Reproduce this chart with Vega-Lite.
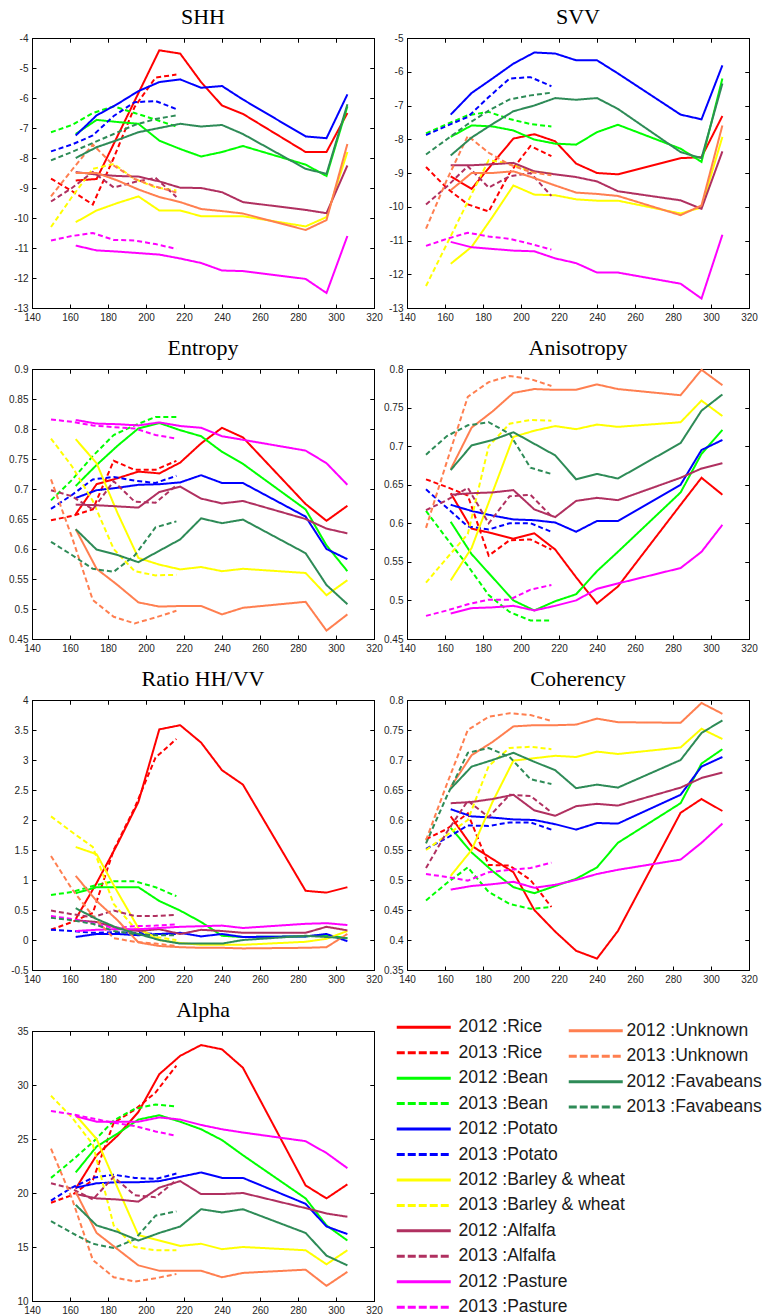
{
"$schema": "https://vega.github.io/schema/vega-lite/v6.json",
"padding": {"left": 8, "top": 5, "right": 2, "bottom": 0},
"background": "white",
"data": {"name": "crops"},
"datasets": {"crops": [
{"series":"2012 :Rice","year":2012,"day":163,"SHH":-8.75,"SVV":-9.1,"Entropy":0.658,"Anisotropy":0.639,"Ratio":0.35,"Coherency":0.606,"Alpha":20.4},
{"series":"2012 :Rice","year":2012,"day":174,"SHH":-8.7,"SVV":-9.47,"Entropy":0.708,"Anisotropy":0.593,"Ratio":0.95,"Coherency":0.557,"Alpha":23.5},
{"series":"2012 :Rice","year":2012,"day":185,"SHH":-7.27,"SVV":-8.72,"Entropy":0.718,"Anisotropy":0.587,"Ratio":1.6,"Coherency":0.535,"Alpha":25.3},
{"series":"2012 :Rice","year":2012,"day":196,"SHH":-5.84,"SVV":-7.98,"Entropy":0.729,"Anisotropy":0.58,"Ratio":2.3,"Coherency":0.513,"Alpha":27.5},
{"series":"2012 :Rice","year":2012,"day":207,"SHH":-4.41,"SVV":-7.85,"Entropy":0.726,"Anisotropy":0.587,"Ratio":3.51,"Coherency":0.45,"Alpha":31.0},
{"series":"2012 :Rice","year":2012,"day":218,"SHH":-4.52,"SVV":-8.06,"Entropy":0.744,"Anisotropy":0.566,"Ratio":3.58,"Coherency":0.414,"Alpha":32.7},
{"series":"2012 :Rice","year":2012,"day":229,"SHH":-5.47,"SVV":-8.72,"Entropy":0.776,"Anisotropy":0.53,"Ratio":3.29,"Coherency":0.382,"Alpha":33.7},
{"series":"2012 :Rice","year":2012,"day":240,"SHH":-6.25,"SVV":-9.0,"Entropy":0.802,"Anisotropy":0.496,"Ratio":2.83,"Coherency":0.369,"Alpha":33.3},
{"series":"2012 :Rice","year":2012,"day":251,"SHH":-6.53,"SVV":-9.04,"Entropy":0.786,"Anisotropy":0.518,"Ratio":2.59,"Coherency":0.415,"Alpha":31.6},
{"series":"2012 :Rice","year":2012,"day":284,"SHH":-7.8,"SVV":-8.56,"Entropy":0.675,"Anisotropy":0.624,"Ratio":0.82,"Coherency":0.612,"Alpha":20.7},
{"series":"2012 :Rice","year":2012,"day":295,"SHH":-7.8,"SVV":-8.53,"Entropy":0.647,"Anisotropy":0.659,"Ratio":0.79,"Coherency":0.635,"Alpha":19.5},
{"series":"2012 :Rice","year":2012,"day":306,"SHH":-6.5,"SVV":-7.31,"Entropy":0.672,"Anisotropy":0.637,"Ratio":0.88,"Coherency":0.615,"Alpha":20.8},
{"series":"2013 :Rice","year":2013,"day":150,"SHH":-8.69,"SVV":-8.82,"Entropy":0.648,"Anisotropy":0.657,"Ratio":0.17,"Coherency":0.568,"Alpha":19.1},
{"series":"2013 :Rice","year":2013,"day":161,"SHH":-9.1,"SVV":-9.45,"Entropy":0.655,"Anisotropy":0.647,"Ratio":0.3,"Coherency":0.585,"Alpha":19.8},
{"series":"2013 :Rice","year":2013,"day":172,"SHH":-9.55,"SVV":-9.93,"Entropy":0.666,"Anisotropy":0.636,"Ratio":0.45,"Coherency":0.611,"Alpha":21.2},
{"series":"2013 :Rice","year":2013,"day":183,"SHH":-8.0,"SVV":-10.14,"Entropy":0.747,"Anisotropy":0.558,"Ratio":1.5,"Coherency":0.525,"Alpha":26.5},
{"series":"2013 :Rice","year":2013,"day":194,"SHH":-6.3,"SVV":-9.0,"Entropy":0.732,"Anisotropy":0.578,"Ratio":2.2,"Coherency":0.524,"Alpha":27.7},
{"series":"2013 :Rice","year":2013,"day":205,"SHH":-5.32,"SVV":-8.2,"Entropy":0.732,"Anisotropy":0.579,"Ratio":3.04,"Coherency":0.5,"Alpha":29.3},
{"series":"2013 :Rice","year":2013,"day":216,"SHH":-5.22,"SVV":-8.5,"Entropy":0.747,"Anisotropy":0.566,"Ratio":3.35,"Coherency":0.455,"Alpha":31.8},
{"series":"2012 :Bean","year":2012,"day":163,"SHH":-7.2,"SVV":-7.93,"Entropy":0.705,"Anisotropy":0.602,"Ratio":0.78,"Coherency":0.587,"Alpha":21.9},
{"series":"2012 :Bean","year":2012,"day":174,"SHH":-6.73,"SVV":-7.59,"Entropy":0.74,"Anisotropy":0.56,"Ratio":0.88,"Coherency":0.546,"Alpha":24.3},
{"series":"2012 :Bean","year":2012,"day":185,"SHH":-6.8,"SVV":-7.62,"Entropy":0.772,"Anisotropy":0.53,"Ratio":0.88,"Coherency":0.515,"Alpha":25.5},
{"series":"2012 :Bean","year":2012,"day":196,"SHH":-6.86,"SVV":-7.74,"Entropy":0.801,"Anisotropy":0.5,"Ratio":0.88,"Coherency":0.488,"Alpha":26.8},
{"series":"2012 :Bean","year":2012,"day":207,"SHH":-7.42,"SVV":-8.01,"Entropy":0.81,"Anisotropy":0.487,"Ratio":0.65,"Coherency":0.478,"Alpha":27.2},
{"series":"2012 :Bean","year":2012,"day":218,"SHH":-7.7,"SVV":-8.13,"Entropy":0.798,"Anisotropy":0.499,"Ratio":0.49,"Coherency":0.49,"Alpha":26.6},
{"series":"2012 :Bean","year":2012,"day":229,"SHH":-7.95,"SVV":-8.16,"Entropy":0.788,"Anisotropy":0.508,"Ratio":0.3,"Coherency":0.502,"Alpha":25.9},
{"series":"2012 :Bean","year":2012,"day":240,"SHH":-7.8,"SVV":-7.79,"Entropy":0.762,"Anisotropy":0.538,"Ratio":0.07,"Coherency":0.521,"Alpha":24.9},
{"series":"2012 :Bean","year":2012,"day":251,"SHH":-7.6,"SVV":-7.57,"Entropy":0.742,"Anisotropy":0.563,"Ratio":0.05,"Coherency":0.562,"Alpha":23.5},
{"series":"2012 :Bean","year":2012,"day":284,"SHH":-8.22,"SVV":-8.28,"Entropy":0.666,"Anisotropy":0.64,"Ratio":0.06,"Coherency":0.628,"Alpha":19.5},
{"series":"2012 :Bean","year":2012,"day":295,"SHH":-8.6,"SVV":-8.67,"Entropy":0.606,"Anisotropy":0.69,"Ratio":0.08,"Coherency":0.694,"Alpha":17.0},
{"series":"2012 :Bean","year":2012,"day":306,"SHH":-6.28,"SVV":-6.2,"Entropy":0.563,"Anisotropy":0.721,"Ratio":0.03,"Coherency":0.718,"Alpha":15.6},
{"series":"2013 :Bean","year":2013,"day":150,"SHH":-7.14,"SVV":-7.83,"Entropy":0.681,"Anisotropy":0.616,"Ratio":0.75,"Coherency":0.466,"Alpha":21.4},
{"series":"2013 :Bean","year":2013,"day":161,"SHH":-6.9,"SVV":-7.55,"Entropy":0.715,"Anisotropy":0.58,"Ratio":0.8,"Coherency":0.495,"Alpha":23.0},
{"series":"2013 :Bean","year":2013,"day":172,"SHH":-6.5,"SVV":-7.29,"Entropy":0.755,"Anisotropy":0.545,"Ratio":0.9,"Coherency":0.521,"Alpha":24.7},
{"series":"2013 :Bean","year":2013,"day":183,"SHH":-6.28,"SVV":-7.19,"Entropy":0.79,"Anisotropy":0.507,"Ratio":0.98,"Coherency":0.48,"Alpha":26.7},
{"series":"2013 :Bean","year":2013,"day":194,"SHH":-6.5,"SVV":-7.4,"Entropy":0.806,"Anisotropy":0.485,"Ratio":0.98,"Coherency":0.46,"Alpha":27.8},
{"series":"2013 :Bean","year":2013,"day":205,"SHH":-6.72,"SVV":-7.55,"Entropy":0.82,"Anisotropy":0.474,"Ratio":0.88,"Coherency":0.452,"Alpha":28.2},
{"series":"2013 :Bean","year":2013,"day":216,"SHH":-6.95,"SVV":-7.62,"Entropy":0.82,"Anisotropy":0.474,"Ratio":0.73,"Coherency":0.455,"Alpha":28.0},
{"series":"2012 :Potato","year":2012,"day":163,"SHH":-7.25,"SVV":-7.27,"Entropy":0.685,"Anisotropy":0.624,"Ratio":0.05,"Coherency":0.618,"Alpha":20.5},
{"series":"2012 :Potato","year":2012,"day":174,"SHH":-6.58,"SVV":-6.63,"Entropy":0.698,"Anisotropy":0.616,"Ratio":0.1,"Coherency":0.606,"Alpha":20.9},
{"series":"2012 :Potato","year":2012,"day":185,"SHH":-6.2,"SVV":-6.2,"Entropy":0.702,"Anisotropy":0.61,"Ratio":0.1,"Coherency":0.604,"Alpha":21.0},
{"series":"2012 :Potato","year":2012,"day":196,"SHH":-5.77,"SVV":-5.76,"Entropy":0.707,"Anisotropy":0.605,"Ratio":0.08,"Coherency":0.601,"Alpha":21.0},
{"series":"2012 :Potato","year":2012,"day":207,"SHH":-5.47,"SVV":-5.43,"Entropy":0.708,"Anisotropy":0.604,"Ratio":0.1,"Coherency":0.6,"Alpha":21.1},
{"series":"2012 :Potato","year":2012,"day":218,"SHH":-5.38,"SVV":-5.46,"Entropy":0.711,"Anisotropy":0.601,"Ratio":0.12,"Coherency":0.593,"Alpha":21.5},
{"series":"2012 :Potato","year":2012,"day":229,"SHH":-5.66,"SVV":-5.66,"Entropy":0.723,"Anisotropy":0.589,"Ratio":0.06,"Coherency":0.584,"Alpha":21.9},
{"series":"2012 :Potato","year":2012,"day":240,"SHH":-5.6,"SVV":-5.66,"Entropy":0.71,"Anisotropy":0.603,"Ratio":0.1,"Coherency":0.595,"Alpha":21.4},
{"series":"2012 :Potato","year":2012,"day":251,"SHH":-6.05,"SVV":-6.05,"Entropy":0.71,"Anisotropy":0.603,"Ratio":0.05,"Coherency":0.594,"Alpha":21.4},
{"series":"2012 :Potato","year":2012,"day":284,"SHH":-7.28,"SVV":-7.27,"Entropy":0.654,"Anisotropy":0.65,"Ratio":0.06,"Coherency":0.642,"Alpha":19.0},
{"series":"2012 :Potato","year":2012,"day":295,"SHH":-7.34,"SVV":-7.41,"Entropy":0.6,"Anisotropy":0.695,"Ratio":0.1,"Coherency":0.689,"Alpha":16.9},
{"series":"2012 :Potato","year":2012,"day":306,"SHH":-5.88,"SVV":-5.81,"Entropy":0.583,"Anisotropy":0.708,"Ratio":-0.02,"Coherency":0.705,"Alpha":16.2},
{"series":"2013 :Potato","year":2013,"day":150,"SHH":-7.78,"SVV":-7.88,"Entropy":0.667,"Anisotropy":0.644,"Ratio":0.17,"Coherency":0.552,"Alpha":19.3},
{"series":"2013 :Potato","year":2013,"day":161,"SHH":-7.55,"SVV":-7.6,"Entropy":0.69,"Anisotropy":0.62,"Ratio":0.15,"Coherency":0.57,"Alpha":20.5},
{"series":"2013 :Potato","year":2013,"day":172,"SHH":-7.25,"SVV":-7.34,"Entropy":0.716,"Anisotropy":0.596,"Ratio":0.12,"Coherency":0.591,"Alpha":21.4},
{"series":"2013 :Potato","year":2013,"day":183,"SHH":-6.6,"SVV":-6.75,"Entropy":0.72,"Anisotropy":0.592,"Ratio":0.13,"Coherency":0.59,"Alpha":21.7},
{"series":"2013 :Potato","year":2013,"day":194,"SHH":-6.14,"SVV":-6.2,"Entropy":0.714,"Anisotropy":0.6,"Ratio":0.12,"Coherency":0.596,"Alpha":21.4},
{"series":"2013 :Potato","year":2013,"day":205,"SHH":-6.1,"SVV":-6.16,"Entropy":0.71,"Anisotropy":0.6,"Ratio":0.1,"Coherency":0.596,"Alpha":21.3},
{"series":"2013 :Potato","year":2013,"day":216,"SHH":-6.37,"SVV":-6.43,"Entropy":0.722,"Anisotropy":0.589,"Ratio":0.1,"Coherency":0.584,"Alpha":21.8},
{"series":"2012 :Barley & wheat","year":2012,"day":163,"SHH":-10.14,"SVV":-11.69,"Entropy":0.783,"Anisotropy":0.526,"Ratio":1.55,"Coherency":0.507,"Alpha":27.2},
{"series":"2012 :Barley & wheat","year":2012,"day":174,"SHH":-9.75,"SVV":-11.19,"Entropy":0.743,"Anisotropy":0.568,"Ratio":1.43,"Coherency":0.55,"Alpha":25.0},
{"series":"2012 :Barley & wheat","year":2012,"day":185,"SHH":-9.5,"SVV":-10.3,"Entropy":0.66,"Anisotropy":0.64,"Ratio":0.8,"Coherency":0.63,"Alpha":20.5},
{"series":"2012 :Barley & wheat","year":2012,"day":196,"SHH":-9.28,"SVV":-9.37,"Entropy":0.585,"Anisotropy":0.712,"Ratio":0.2,"Coherency":0.699,"Alpha":16.1},
{"series":"2012 :Barley & wheat","year":2012,"day":207,"SHH":-9.75,"SVV":-9.64,"Entropy":0.574,"Anisotropy":0.72,"Ratio":0.0,"Coherency":0.703,"Alpha":15.6},
{"series":"2012 :Barley & wheat","year":2012,"day":218,"SHH":-9.75,"SVV":-9.66,"Entropy":0.566,"Anisotropy":0.726,"Ratio":-0.05,"Coherency":0.707,"Alpha":15.1},
{"series":"2012 :Barley & wheat","year":2012,"day":229,"SHH":-9.94,"SVV":-9.78,"Entropy":0.57,"Anisotropy":0.722,"Ratio":-0.08,"Coherency":0.705,"Alpha":15.3},
{"series":"2012 :Barley & wheat","year":2012,"day":240,"SHH":-9.94,"SVV":-9.82,"Entropy":0.563,"Anisotropy":0.728,"Ratio":-0.08,"Coherency":0.714,"Alpha":14.8},
{"series":"2012 :Barley & wheat","year":2012,"day":251,"SHH":-9.94,"SVV":-9.82,"Entropy":0.567,"Anisotropy":0.725,"Ratio":-0.08,"Coherency":0.71,"Alpha":15.0},
{"series":"2012 :Barley & wheat","year":2012,"day":284,"SHH":-10.28,"SVV":-10.2,"Entropy":0.56,"Anisotropy":0.731,"Ratio":-0.03,"Coherency":0.721,"Alpha":14.7},
{"series":"2012 :Barley & wheat","year":2012,"day":295,"SHH":-9.97,"SVV":-10.02,"Entropy":0.523,"Anisotropy":0.759,"Ratio":0.02,"Coherency":0.752,"Alpha":13.4},
{"series":"2012 :Barley & wheat","year":2012,"day":306,"SHH":-7.8,"SVV":-7.93,"Entropy":0.548,"Anisotropy":0.739,"Ratio":0.15,"Coherency":0.735,"Alpha":14.7},
{"series":"2013 :Barley & wheat","year":2013,"day":150,"SHH":-10.3,"SVV":-12.35,"Entropy":0.784,"Anisotropy":0.523,"Ratio":2.06,"Coherency":0.55,"Alpha":29.0},
{"series":"2013 :Barley & wheat","year":2013,"day":161,"SHH":-9.3,"SVV":-11.1,"Entropy":0.738,"Anisotropy":0.555,"Ratio":1.8,"Coherency":0.575,"Alpha":27.0},
{"series":"2013 :Barley & wheat","year":2013,"day":172,"SHH":-8.36,"SVV":-9.85,"Entropy":0.68,"Anisotropy":0.586,"Ratio":1.55,"Coherency":0.6,"Alpha":24.5},
{"series":"2013 :Barley & wheat","year":2013,"day":183,"SHH":-8.2,"SVV":-8.62,"Entropy":0.6,"Anisotropy":0.7,"Ratio":0.6,"Coherency":0.69,"Alpha":17.0},
{"series":"2013 :Barley & wheat","year":2013,"day":194,"SHH":-8.7,"SVV":-8.72,"Entropy":0.563,"Anisotropy":0.729,"Ratio":0.2,"Coherency":0.72,"Alpha":15.0},
{"series":"2013 :Barley & wheat","year":2013,"day":205,"SHH":-8.98,"SVV":-8.95,"Entropy":0.556,"Anisotropy":0.734,"Ratio":0.05,"Coherency":0.722,"Alpha":14.7},
{"series":"2013 :Barley & wheat","year":2013,"day":216,"SHH":-9.08,"SVV":-9.02,"Entropy":0.557,"Anisotropy":0.733,"Ratio":0.0,"Coherency":0.718,"Alpha":14.7},
{"series":"2012 :Alfalfa","year":2012,"day":163,"SHH":-8.47,"SVV":-8.77,"Entropy":0.674,"Anisotropy":0.637,"Ratio":0.33,"Coherency":0.628,"Alpha":19.9},
{"series":"2012 :Alfalfa","year":2012,"day":174,"SHH":-8.55,"SVV":-8.77,"Entropy":0.673,"Anisotropy":0.639,"Ratio":0.3,"Coherency":0.63,"Alpha":19.5},
{"series":"2012 :Alfalfa","year":2012,"day":185,"SHH":-8.6,"SVV":-8.74,"Entropy":0.671,"Anisotropy":0.64,"Ratio":0.2,"Coherency":0.635,"Alpha":19.4},
{"series":"2012 :Alfalfa","year":2012,"day":196,"SHH":-8.62,"SVV":-8.7,"Entropy":0.669,"Anisotropy":0.643,"Ratio":0.15,"Coherency":0.642,"Alpha":19.2},
{"series":"2012 :Alfalfa","year":2012,"day":207,"SHH":-8.78,"SVV":-8.95,"Entropy":0.695,"Anisotropy":0.618,"Ratio":0.18,"Coherency":0.616,"Alpha":20.5},
{"series":"2012 :Alfalfa","year":2012,"day":218,"SHH":-8.99,"SVV":-9.04,"Entropy":0.704,"Anisotropy":0.608,"Ratio":0.1,"Coherency":0.607,"Alpha":21.1},
{"series":"2012 :Alfalfa","year":2012,"day":229,"SHH":-9.0,"SVV":-9.12,"Entropy":0.684,"Anisotropy":0.629,"Ratio":0.17,"Coherency":0.623,"Alpha":19.9},
{"series":"2012 :Alfalfa","year":2012,"day":240,"SHH":-9.14,"SVV":-9.25,"Entropy":0.676,"Anisotropy":0.633,"Ratio":0.15,"Coherency":0.627,"Alpha":19.9},
{"series":"2012 :Alfalfa","year":2012,"day":251,"SHH":-9.47,"SVV":-9.54,"Entropy":0.68,"Anisotropy":0.63,"Ratio":0.12,"Coherency":0.624,"Alpha":20.0},
{"series":"2012 :Alfalfa","year":2012,"day":284,"SHH":-9.73,"SVV":-9.81,"Entropy":0.65,"Anisotropy":0.659,"Ratio":0.12,"Coherency":0.654,"Alpha":18.6},
{"series":"2012 :Alfalfa","year":2012,"day":295,"SHH":-9.84,"SVV":-10.06,"Entropy":0.634,"Anisotropy":0.671,"Ratio":0.22,"Coherency":0.67,"Alpha":18.1},
{"series":"2012 :Alfalfa","year":2012,"day":306,"SHH":-8.25,"SVV":-8.36,"Entropy":0.626,"Anisotropy":0.678,"Ratio":0.16,"Coherency":0.679,"Alpha":17.8},
{"series":"2013 :Alfalfa","year":2013,"day":150,"SHH":-9.45,"SVV":-9.93,"Entropy":0.698,"Anisotropy":0.617,"Ratio":0.49,"Coherency":0.52,"Alpha":20.9},
{"series":"2013 :Alfalfa","year":2013,"day":161,"SHH":-9.0,"SVV":-9.4,"Entropy":0.688,"Anisotropy":0.63,"Ratio":0.43,"Coherency":0.58,"Alpha":20.4},
{"series":"2013 :Alfalfa","year":2013,"day":172,"SHH":-8.47,"SVV":-8.8,"Entropy":0.666,"Anisotropy":0.646,"Ratio":0.38,"Coherency":0.632,"Alpha":19.4},
{"series":"2013 :Alfalfa","year":2013,"day":183,"SHH":-8.98,"SVV":-9.43,"Entropy":0.713,"Anisotropy":0.6,"Ratio":0.49,"Coherency":0.605,"Alpha":21.5},
{"series":"2013 :Alfalfa","year":2013,"day":194,"SHH":-8.8,"SVV":-9.1,"Entropy":0.679,"Anisotropy":0.635,"Ratio":0.4,"Coherency":0.642,"Alpha":19.8},
{"series":"2013 :Alfalfa","year":2013,"day":205,"SHH":-8.66,"SVV":-9.0,"Entropy":0.677,"Anisotropy":0.637,"Ratio":0.4,"Coherency":0.64,"Alpha":19.6},
{"series":"2013 :Alfalfa","year":2013,"day":216,"SHH":-9.3,"SVV":-9.68,"Entropy":0.706,"Anisotropy":0.609,"Ratio":0.42,"Coherency":0.613,"Alpha":21.2},
{"series":"2012 :Pasture","year":2012,"day":163,"SHH":-10.92,"SVV":-11.04,"Entropy":0.815,"Anisotropy":0.483,"Ratio":0.15,"Coherency":0.484,"Alpha":27.1},
{"series":"2012 :Pasture","year":2012,"day":174,"SHH":-11.08,"SVV":-11.2,"Entropy":0.809,"Anisotropy":0.49,"Ratio":0.17,"Coherency":0.49,"Alpha":26.6},
{"series":"2012 :Pasture","year":2012,"day":185,"SHH":-11.12,"SVV":-11.25,"Entropy":0.808,"Anisotropy":0.491,"Ratio":0.18,"Coherency":0.493,"Alpha":26.6},
{"series":"2012 :Pasture","year":2012,"day":196,"SHH":-11.17,"SVV":-11.3,"Entropy":0.806,"Anisotropy":0.493,"Ratio":0.18,"Coherency":0.497,"Alpha":26.6},
{"series":"2012 :Pasture","year":2012,"day":207,"SHH":-11.22,"SVV":-11.32,"Entropy":0.811,"Anisotropy":0.487,"Ratio":0.2,"Coherency":0.487,"Alpha":27.0},
{"series":"2012 :Pasture","year":2012,"day":218,"SHH":-11.35,"SVV":-11.53,"Entropy":0.805,"Anisotropy":0.493,"Ratio":0.22,"Coherency":0.492,"Alpha":26.8},
{"series":"2012 :Pasture","year":2012,"day":229,"SHH":-11.5,"SVV":-11.67,"Entropy":0.802,"Anisotropy":0.5,"Ratio":0.23,"Coherency":0.5,"Alpha":26.3},
{"series":"2012 :Pasture","year":2012,"day":240,"SHH":-11.75,"SVV":-11.95,"Entropy":0.788,"Anisotropy":0.515,"Ratio":0.24,"Coherency":0.51,"Alpha":25.9},
{"series":"2012 :Pasture","year":2012,"day":251,"SHH":-11.77,"SVV":-11.95,"Entropy":0.782,"Anisotropy":0.522,"Ratio":0.2,"Coherency":0.517,"Alpha":25.6},
{"series":"2012 :Pasture","year":2012,"day":284,"SHH":-12.03,"SVV":-12.28,"Entropy":0.764,"Anisotropy":0.542,"Ratio":0.27,"Coherency":0.534,"Alpha":24.8},
{"series":"2012 :Pasture","year":2012,"day":295,"SHH":-12.5,"SVV":-12.72,"Entropy":0.743,"Anisotropy":0.563,"Ratio":0.28,"Coherency":0.562,"Alpha":23.7},
{"series":"2012 :Pasture","year":2012,"day":306,"SHH":-10.6,"SVV":-10.83,"Entropy":0.707,"Anisotropy":0.598,"Ratio":0.25,"Coherency":0.594,"Alpha":22.3},
{"series":"2013 :Pasture","year":2013,"day":150,"SHH":-10.75,"SVV":-11.16,"Entropy":0.816,"Anisotropy":0.48,"Ratio":0.4,"Coherency":0.51,"Alpha":27.6},
{"series":"2013 :Pasture","year":2013,"day":161,"SHH":-10.6,"SVV":-10.95,"Entropy":0.812,"Anisotropy":0.487,"Ratio":0.35,"Coherency":0.505,"Alpha":27.3},
{"series":"2013 :Pasture","year":2013,"day":172,"SHH":-10.5,"SVV":-10.77,"Entropy":0.806,"Anisotropy":0.495,"Ratio":0.28,"Coherency":0.499,"Alpha":26.9},
{"series":"2013 :Pasture","year":2013,"day":183,"SHH":-10.73,"SVV":-10.88,"Entropy":0.803,"Anisotropy":0.501,"Ratio":0.2,"Coherency":0.513,"Alpha":26.5},
{"series":"2013 :Pasture","year":2013,"day":194,"SHH":-10.75,"SVV":-10.95,"Entropy":0.801,"Anisotropy":0.501,"Ratio":0.23,"Coherency":0.517,"Alpha":26.2},
{"series":"2013 :Pasture","year":2013,"day":205,"SHH":-10.87,"SVV":-11.1,"Entropy":0.79,"Anisotropy":0.514,"Ratio":0.24,"Coherency":0.52,"Alpha":25.7},
{"series":"2013 :Pasture","year":2013,"day":216,"SHH":-11.03,"SVV":-11.27,"Entropy":0.784,"Anisotropy":0.52,"Ratio":0.26,"Coherency":0.529,"Alpha":25.3},
{"series":"2012 :Unknown","year":2012,"day":163,"SHH":-8.5,"SVV":-9.51,"Entropy":0.633,"Anisotropy":0.67,"Ratio":1.07,"Coherency":0.655,"Alpha":20.1},
{"series":"2012 :Unknown","year":2012,"day":174,"SHH":-8.5,"SVV":-9.0,"Entropy":0.567,"Anisotropy":0.724,"Ratio":0.65,"Coherency":0.708,"Alpha":16.3},
{"series":"2012 :Unknown","year":2012,"day":185,"SHH":-8.75,"SVV":-9.0,"Entropy":0.54,"Anisotropy":0.745,"Ratio":0.33,"Coherency":0.73,"Alpha":14.8},
{"series":"2012 :Unknown","year":2012,"day":196,"SHH":-9.05,"SVV":-8.95,"Entropy":0.511,"Anisotropy":0.769,"Ratio":-0.04,"Coherency":0.756,"Alpha":13.3},
{"series":"2012 :Unknown","year":2012,"day":207,"SHH":-9.3,"SVV":-9.15,"Entropy":0.504,"Anisotropy":0.774,"Ratio":-0.1,"Coherency":0.758,"Alpha":12.8},
{"series":"2012 :Unknown","year":2012,"day":218,"SHH":-9.47,"SVV":-9.37,"Entropy":0.505,"Anisotropy":0.773,"Ratio":-0.12,"Coherency":0.758,"Alpha":12.8},
{"series":"2012 :Unknown","year":2012,"day":229,"SHH":-9.7,"SVV":-9.58,"Entropy":0.505,"Anisotropy":0.773,"Ratio":-0.13,"Coherency":0.759,"Alpha":12.8},
{"series":"2012 :Unknown","year":2012,"day":240,"SHH":-9.77,"SVV":-9.62,"Entropy":0.491,"Anisotropy":0.78,"Ratio":-0.13,"Coherency":0.769,"Alpha":12.2},
{"series":"2012 :Unknown","year":2012,"day":251,"SHH":-9.85,"SVV":-9.68,"Entropy":0.502,"Anisotropy":0.774,"Ratio":-0.14,"Coherency":0.763,"Alpha":12.6},
{"series":"2012 :Unknown","year":2012,"day":284,"SHH":-10.4,"SVV":-10.25,"Entropy":0.512,"Anisotropy":0.766,"Ratio":-0.13,"Coherency":0.762,"Alpha":12.9},
{"series":"2012 :Unknown","year":2012,"day":295,"SHH":-10.07,"SVV":-9.96,"Entropy":0.464,"Anisotropy":0.799,"Ratio":-0.12,"Coherency":0.795,"Alpha":11.4},
{"series":"2012 :Unknown","year":2012,"day":306,"SHH":-7.53,"SVV":-7.59,"Entropy":0.491,"Anisotropy":0.779,"Ratio":0.1,"Coherency":0.777,"Alpha":12.7},
{"series":"2013 :Unknown","year":2013,"day":150,"SHH":-9.28,"SVV":-10.65,"Entropy":0.716,"Anisotropy":0.594,"Ratio":1.4,"Coherency":0.566,"Alpha":24.1},
{"series":"2013 :Unknown","year":2013,"day":161,"SHH":-8.4,"SVV":-9.2,"Entropy":0.62,"Anisotropy":0.68,"Ratio":0.85,"Coherency":0.66,"Alpha":19.5},
{"series":"2013 :Unknown","year":2013,"day":172,"SHH":-7.55,"SVV":-7.9,"Entropy":0.515,"Anisotropy":0.764,"Ratio":0.4,"Coherency":0.75,"Alpha":13.8},
{"series":"2013 :Unknown","year":2013,"day":183,"SHH":-8.25,"SVV":-8.4,"Entropy":0.487,"Anisotropy":0.783,"Ratio":0.03,"Coherency":0.772,"Alpha":12.2},
{"series":"2013 :Unknown","year":2013,"day":194,"SHH":-8.7,"SVV":-8.75,"Entropy":0.476,"Anisotropy":0.791,"Ratio":-0.03,"Coherency":0.778,"Alpha":11.8},
{"series":"2013 :Unknown","year":2013,"day":205,"SHH":-8.95,"SVV":-8.97,"Entropy":0.486,"Anisotropy":0.787,"Ratio":-0.06,"Coherency":0.775,"Alpha":12.1},
{"series":"2013 :Unknown","year":2013,"day":216,"SHH":-9.15,"SVV":-9.07,"Entropy":0.497,"Anisotropy":0.778,"Ratio":-0.1,"Coherency":0.765,"Alpha":12.5},
{"series":"2012 :Favabeans","year":2012,"day":163,"SHH":-8.0,"SVV":-8.48,"Entropy":0.633,"Anisotropy":0.669,"Ratio":0.53,"Coherency":0.652,"Alpha":18.9},
{"series":"2012 :Favabeans","year":2012,"day":174,"SHH":-7.64,"SVV":-7.95,"Entropy":0.599,"Anisotropy":0.701,"Ratio":0.35,"Coherency":0.689,"Alpha":17.0},
{"series":"2012 :Favabeans","year":2012,"day":185,"SHH":-7.4,"SVV":-7.55,"Entropy":0.59,"Anisotropy":0.708,"Ratio":0.2,"Coherency":0.7,"Alpha":16.4},
{"series":"2012 :Favabeans","year":2012,"day":196,"SHH":-7.14,"SVV":-7.17,"Entropy":0.578,"Anisotropy":0.718,"Ratio":0.1,"Coherency":0.712,"Alpha":15.6},
{"series":"2012 :Favabeans","year":2012,"day":207,"SHH":-7.0,"SVV":-7.0,"Entropy":0.597,"Anisotropy":0.703,"Ratio":0.0,"Coherency":0.697,"Alpha":16.3},
{"series":"2012 :Favabeans","year":2012,"day":218,"SHH":-6.86,"SVV":-6.78,"Entropy":0.616,"Anisotropy":0.688,"Ratio":-0.06,"Coherency":0.683,"Alpha":16.9},
{"series":"2012 :Favabeans","year":2012,"day":229,"SHH":-6.95,"SVV":-6.83,"Entropy":0.651,"Anisotropy":0.657,"Ratio":-0.06,"Coherency":0.653,"Alpha":18.5},
{"series":"2012 :Favabeans","year":2012,"day":240,"SHH":-6.9,"SVV":-6.78,"Entropy":0.643,"Anisotropy":0.664,"Ratio":-0.06,"Coherency":0.659,"Alpha":18.2},
{"series":"2012 :Favabeans","year":2012,"day":251,"SHH":-7.2,"SVV":-7.1,"Entropy":0.649,"Anisotropy":0.658,"Ratio":0.0,"Coherency":0.654,"Alpha":18.5},
{"series":"2012 :Favabeans","year":2012,"day":284,"SHH":-8.36,"SVV":-8.38,"Entropy":0.593,"Anisotropy":0.704,"Ratio":0.07,"Coherency":0.7,"Alpha":16.3},
{"series":"2012 :Favabeans","year":2012,"day":295,"SHH":-8.53,"SVV":-8.56,"Entropy":0.54,"Anisotropy":0.746,"Ratio":0.05,"Coherency":0.745,"Alpha":14.2},
{"series":"2012 :Favabeans","year":2012,"day":306,"SHH":-6.21,"SVV":-6.35,"Entropy":0.508,"Anisotropy":0.767,"Ratio":0.03,"Coherency":0.766,"Alpha":13.3},
{"series":"2013 :Favabeans","year":2013,"day":150,"SHH":-8.08,"SVV":-8.45,"Entropy":0.612,"Anisotropy":0.689,"Ratio":0.37,"Coherency":0.561,"Alpha":17.4},
{"series":"2013 :Favabeans","year":2013,"day":161,"SHH":-7.8,"SVV":-8.0,"Entropy":0.59,"Anisotropy":0.713,"Ratio":0.33,"Coherency":0.64,"Alpha":16.3},
{"series":"2013 :Favabeans","year":2013,"day":172,"SHH":-7.5,"SVV":-7.55,"Entropy":0.567,"Anisotropy":0.727,"Ratio":0.27,"Coherency":0.712,"Alpha":15.3},
{"series":"2013 :Favabeans","year":2013,"day":183,"SHH":-7.2,"SVV":-7.15,"Entropy":0.562,"Anisotropy":0.731,"Ratio":0.15,"Coherency":0.72,"Alpha":14.9},
{"series":"2013 :Favabeans","year":2013,"day":194,"SHH":-6.9,"SVV":-6.82,"Entropy":0.589,"Anisotropy":0.716,"Ratio":0.1,"Coherency":0.705,"Alpha":15.7},
{"series":"2013 :Favabeans","year":2013,"day":205,"SHH":-6.7,"SVV":-6.7,"Entropy":0.636,"Anisotropy":0.672,"Ratio":0.08,"Coherency":0.668,"Alpha":17.9},
{"series":"2013 :Favabeans","year":2013,"day":216,"SHH":-6.58,"SVV":-6.62,"Entropy":0.646,"Anisotropy":0.664,"Ratio":0.08,"Coherency":0.66,"Alpha":18.3}
]},
"concat": [
   {"title": "SHH", "width": 342, "height": 270,
    "resolve": {"axis": {"x": "independent", "y": "independent"}},
    "encoding": {
     "x": {"field": "day", "type": "quantitative", "scale": {"domain": [140, 320], "nice": false}, "axis": {"values": [140,160,180,200,220,240,260,280,300,320]}},
     "y": {"field": "SHH", "type": "quantitative", "scale": {"domain": [-13, -4], "nice": false, "zero": false}, "axis": {"values": [-13,-12,-11,-10,-9,-8,-7,-6,-5,-4]}},
     "strokeDash": {"field": "year", "type": "nominal", "scale": {"domain": [2012, 2013], "range": [[1, 0], [5, 3]]}, "legend": null}
    },
    "layer": [
     {"transform": [{"filter": {"field": "series", "oneOf": ["2012 :Rice","2013 :Rice","2012 :Bean","2013 :Bean","2012 :Potato","2013 :Potato","2012 :Barley & wheat","2013 :Barley & wheat","2012 :Alfalfa","2013 :Alfalfa","2012 :Pasture","2013 :Pasture"]}}],
      "mark": {"type": "line", "strokeWidth": 2},
      "encoding": {"color": {"field": "series", "type": "nominal",
        "scale": {"domain": ["2012 :Rice","2013 :Rice","2012 :Bean","2013 :Bean","2012 :Potato","2013 :Potato","2012 :Barley & wheat","2013 :Barley & wheat","2012 :Alfalfa","2013 :Alfalfa","2012 :Pasture","2013 :Pasture"],
                  "range": ["#ff0000","#ff0000","#00ff00","#00ff00","#0000ff","#0000ff","#ffff00","#ffff00","#b03060","#b03060","#ff00ff","#ff00ff"]},
        "legend": {"orient": "none", "legendX": 383, "legendY": 980.5, "title": null, "direction": "vertical", "columns": 1,
          "symbolType": "M-4.5,0H4.5", "symbolSize": 144, "symbolStrokeWidth": 3, "labelOffset": 26, "rowPadding": 6.45,
          "labelFont": "Liberation Sans", "labelFontSize": 17.5, "labelColor": "#1a1a1a", "labelLimit": 400, "padding": 0,
          "encode": {"symbols": {"update": {"strokeDash": {"signal": "indexof(datum.value, '2013') == 0 ? [8, 3] : [1, 0]"}}}}}}}
     },
     {"transform": [{"filter": {"field": "series", "oneOf": ["2012 :Unknown","2013 :Unknown","2012 :Favabeans","2013 :Favabeans"]}}],
      "mark": {"type": "line", "strokeWidth": 2},
      "encoding": {"stroke": {"field": "series", "type": "nominal",
        "scale": {"domain": ["2012 :Unknown","2013 :Unknown","2012 :Favabeans","2013 :Favabeans"], "range": ["#ff7f50","#ff7f50","#2e8b57","#2e8b57"]},
        "legend": {"orient": "none", "legendX": 555, "legendY": 984, "title": null, "direction": "vertical", "columns": 1,
          "symbolType": "M-4.5,0H4.5", "symbolSize": 144, "symbolStrokeWidth": 3, "labelOffset": 22, "rowPadding": 6.45,
          "labelFont": "Liberation Sans", "labelFontSize": 17.5, "labelColor": "#1a1a1a", "labelLimit": 400, "padding": 0,
          "encode": {"symbols": {"update": {"strokeDash": {"signal": "indexof(datum.value, '2013') == 0 ? [8, 3] : [1, 0]"}}}}}}}
     },
     {"mark": {"type": "point", "opacity": 0},
      "encoding": {"x": {"field": "day", "type": "quantitative", "axis": {"orient": "top", "values": [140,160,180,200,220,240,260,280,300,320]}},
                   "y": {"field": "SHH", "type": "quantitative", "axis": {"orient": "right", "values": [-13,-12,-11,-10,-9,-8,-7,-6,-5,-4]}}}}
    ]},
   {"title": "SVV", "width": 342, "height": 270,
    "resolve": {"axis": {"x": "independent", "y": "independent"}},
    "encoding": {
     "x": {"field": "day", "type": "quantitative", "scale": {"domain": [140, 320], "nice": false}, "axis": {"values": [140,160,180,200,220,240,260,280,300,320]}},
     "y": {"field": "SVV", "type": "quantitative", "scale": {"domain": [-13, -5], "nice": false, "zero": false}, "axis": {"values": [-13,-12,-11,-10,-9,-8,-7,-6,-5]}},
     "strokeDash": {"field": "year", "type": "nominal", "scale": {"domain": [2012, 2013], "range": [[1, 0], [5, 3]]}, "legend": null}
    },
    "layer": [
     {"transform": [{"filter": {"field": "series", "oneOf": ["2012 :Rice","2013 :Rice","2012 :Bean","2013 :Bean","2012 :Potato","2013 :Potato","2012 :Barley & wheat","2013 :Barley & wheat","2012 :Alfalfa","2013 :Alfalfa","2012 :Pasture","2013 :Pasture"]}}],
      "mark": {"type": "line", "strokeWidth": 2},
      "encoding": {"color": {"field": "series", "type": "nominal"}}},
     {"transform": [{"filter": {"field": "series", "oneOf": ["2012 :Unknown","2013 :Unknown","2012 :Favabeans","2013 :Favabeans"]}}],
      "mark": {"type": "line", "strokeWidth": 2},
      "encoding": {"stroke": {"field": "series", "type": "nominal"}}},
     {"mark": {"type": "point", "opacity": 0},
      "encoding": {"x": {"field": "day", "type": "quantitative", "axis": {"orient": "top", "values": [140,160,180,200,220,240,260,280,300,320]}},
                   "y": {"field": "SVV", "type": "quantitative", "axis": {"orient": "right", "values": [-13,-12,-11,-10,-9,-8,-7,-6,-5]}}}}
    ]},
   {"title": "Entropy", "width": 342, "height": 270,
    "resolve": {"axis": {"x": "independent", "y": "independent"}},
    "encoding": {
     "x": {"field": "day", "type": "quantitative", "scale": {"domain": [140, 320], "nice": false}, "axis": {"values": [140,160,180,200,220,240,260,280,300,320]}},
     "y": {"field": "Entropy", "type": "quantitative", "scale": {"domain": [0.45, 0.9], "nice": false, "zero": false}, "axis": {"values": [0.45,0.5,0.55,0.6,0.65,0.7,0.75,0.8,0.85,0.9]}},
     "strokeDash": {"field": "year", "type": "nominal", "scale": {"domain": [2012, 2013], "range": [[1, 0], [5, 3]]}, "legend": null}
    },
    "layer": [
     {"transform": [{"filter": {"field": "series", "oneOf": ["2012 :Rice","2013 :Rice","2012 :Bean","2013 :Bean","2012 :Potato","2013 :Potato","2012 :Barley & wheat","2013 :Barley & wheat","2012 :Alfalfa","2013 :Alfalfa","2012 :Pasture","2013 :Pasture"]}}],
      "mark": {"type": "line", "strokeWidth": 2},
      "encoding": {"color": {"field": "series", "type": "nominal"}}},
     {"transform": [{"filter": {"field": "series", "oneOf": ["2012 :Unknown","2013 :Unknown","2012 :Favabeans","2013 :Favabeans"]}}],
      "mark": {"type": "line", "strokeWidth": 2},
      "encoding": {"stroke": {"field": "series", "type": "nominal"}}},
     {"mark": {"type": "point", "opacity": 0},
      "encoding": {"x": {"field": "day", "type": "quantitative", "axis": {"orient": "top", "values": [140,160,180,200,220,240,260,280,300,320]}},
                   "y": {"field": "Entropy", "type": "quantitative", "axis": {"orient": "right", "values": [0.45,0.5,0.55,0.6,0.65,0.7,0.75,0.8,0.85,0.9]}}}}
    ]},
   {"title": "Anisotropy", "width": 342, "height": 270,
    "resolve": {"axis": {"x": "independent", "y": "independent"}},
    "encoding": {
     "x": {"field": "day", "type": "quantitative", "scale": {"domain": [140, 320], "nice": false}, "axis": {"values": [140,160,180,200,220,240,260,280,300,320]}},
     "y": {"field": "Anisotropy", "type": "quantitative", "scale": {"domain": [0.45, 0.8], "nice": false, "zero": false}, "axis": {"values": [0.45,0.5,0.55,0.6,0.65,0.7,0.75,0.8]}},
     "strokeDash": {"field": "year", "type": "nominal", "scale": {"domain": [2012, 2013], "range": [[1, 0], [5, 3]]}, "legend": null}
    },
    "layer": [
     {"transform": [{"filter": {"field": "series", "oneOf": ["2012 :Rice","2013 :Rice","2012 :Bean","2013 :Bean","2012 :Potato","2013 :Potato","2012 :Barley & wheat","2013 :Barley & wheat","2012 :Alfalfa","2013 :Alfalfa","2012 :Pasture","2013 :Pasture"]}}],
      "mark": {"type": "line", "strokeWidth": 2},
      "encoding": {"color": {"field": "series", "type": "nominal"}}},
     {"transform": [{"filter": {"field": "series", "oneOf": ["2012 :Unknown","2013 :Unknown","2012 :Favabeans","2013 :Favabeans"]}}],
      "mark": {"type": "line", "strokeWidth": 2},
      "encoding": {"stroke": {"field": "series", "type": "nominal"}}},
     {"mark": {"type": "point", "opacity": 0},
      "encoding": {"x": {"field": "day", "type": "quantitative", "axis": {"orient": "top", "values": [140,160,180,200,220,240,260,280,300,320]}},
                   "y": {"field": "Anisotropy", "type": "quantitative", "axis": {"orient": "right", "values": [0.45,0.5,0.55,0.6,0.65,0.7,0.75,0.8]}}}}
    ]},
   {"title": "Ratio HH/VV", "width": 342, "height": 270,
    "resolve": {"axis": {"x": "independent", "y": "independent"}},
    "encoding": {
     "x": {"field": "day", "type": "quantitative", "scale": {"domain": [140, 320], "nice": false}, "axis": {"values": [140,160,180,200,220,240,260,280,300,320]}},
     "y": {"field": "Ratio", "type": "quantitative", "scale": {"domain": [-0.5, 4], "nice": false, "zero": false}, "axis": {"values": [-0.5,0,0.5,1,1.5,2,2.5,3,3.5,4]}},
     "strokeDash": {"field": "year", "type": "nominal", "scale": {"domain": [2012, 2013], "range": [[1, 0], [5, 3]]}, "legend": null}
    },
    "layer": [
     {"transform": [{"filter": {"field": "series", "oneOf": ["2012 :Rice","2013 :Rice","2012 :Bean","2013 :Bean","2012 :Potato","2013 :Potato","2012 :Barley & wheat","2013 :Barley & wheat","2012 :Alfalfa","2013 :Alfalfa","2012 :Pasture","2013 :Pasture"]}}],
      "mark": {"type": "line", "strokeWidth": 2},
      "encoding": {"color": {"field": "series", "type": "nominal"}}},
     {"transform": [{"filter": {"field": "series", "oneOf": ["2012 :Unknown","2013 :Unknown","2012 :Favabeans","2013 :Favabeans"]}}],
      "mark": {"type": "line", "strokeWidth": 2},
      "encoding": {"stroke": {"field": "series", "type": "nominal"}}},
     {"mark": {"type": "point", "opacity": 0},
      "encoding": {"x": {"field": "day", "type": "quantitative", "axis": {"orient": "top", "values": [140,160,180,200,220,240,260,280,300,320]}},
                   "y": {"field": "Ratio", "type": "quantitative", "axis": {"orient": "right", "values": [-0.5,0,0.5,1,1.5,2,2.5,3,3.5,4]}}}}
    ]},
   {"title": "Coherency", "width": 342, "height": 270,
    "resolve": {"axis": {"x": "independent", "y": "independent"}},
    "encoding": {
     "x": {"field": "day", "type": "quantitative", "scale": {"domain": [140, 320], "nice": false}, "axis": {"values": [140,160,180,200,220,240,260,280,300,320]}},
     "y": {"field": "Coherency", "type": "quantitative", "scale": {"domain": [0.35, 0.8], "nice": false, "zero": false}, "axis": {"values": [0.35,0.4,0.45,0.5,0.55,0.6,0.65,0.7,0.75,0.8]}},
     "strokeDash": {"field": "year", "type": "nominal", "scale": {"domain": [2012, 2013], "range": [[1, 0], [5, 3]]}, "legend": null}
    },
    "layer": [
     {"transform": [{"filter": {"field": "series", "oneOf": ["2012 :Rice","2013 :Rice","2012 :Bean","2013 :Bean","2012 :Potato","2013 :Potato","2012 :Barley & wheat","2013 :Barley & wheat","2012 :Alfalfa","2013 :Alfalfa","2012 :Pasture","2013 :Pasture"]}}],
      "mark": {"type": "line", "strokeWidth": 2},
      "encoding": {"color": {"field": "series", "type": "nominal"}}},
     {"transform": [{"filter": {"field": "series", "oneOf": ["2012 :Unknown","2013 :Unknown","2012 :Favabeans","2013 :Favabeans"]}}],
      "mark": {"type": "line", "strokeWidth": 2},
      "encoding": {"stroke": {"field": "series", "type": "nominal"}}},
     {"mark": {"type": "point", "opacity": 0},
      "encoding": {"x": {"field": "day", "type": "quantitative", "axis": {"orient": "top", "values": [140,160,180,200,220,240,260,280,300,320]}},
                   "y": {"field": "Coherency", "type": "quantitative", "axis": {"orient": "right", "values": [0.35,0.4,0.45,0.5,0.55,0.6,0.65,0.7,0.75,0.8]}}}}
    ]},
   {"title": "Alpha", "width": 342, "height": 270,
    "resolve": {"axis": {"x": "independent", "y": "independent"}},
    "encoding": {
     "x": {"field": "day", "type": "quantitative", "scale": {"domain": [140, 320], "nice": false}, "axis": {"values": [140,160,180,200,220,240,260,280,300,320]}},
     "y": {"field": "Alpha", "type": "quantitative", "scale": {"domain": [10, 35], "nice": false, "zero": false}, "axis": {"values": [10,15,20,25,30,35]}},
     "strokeDash": {"field": "year", "type": "nominal", "scale": {"domain": [2012, 2013], "range": [[1, 0], [5, 3]]}, "legend": null}
    },
    "layer": [
     {"transform": [{"filter": {"field": "series", "oneOf": ["2012 :Rice","2013 :Rice","2012 :Bean","2013 :Bean","2012 :Potato","2013 :Potato","2012 :Barley & wheat","2013 :Barley & wheat","2012 :Alfalfa","2013 :Alfalfa","2012 :Pasture","2013 :Pasture"]}}],
      "mark": {"type": "line", "strokeWidth": 2},
      "encoding": {"color": {"field": "series", "type": "nominal"}}},
     {"transform": [{"filter": {"field": "series", "oneOf": ["2012 :Unknown","2013 :Unknown","2012 :Favabeans","2013 :Favabeans"]}}],
      "mark": {"type": "line", "strokeWidth": 2},
      "encoding": {"stroke": {"field": "series", "type": "nominal"}}},
     {"mark": {"type": "point", "opacity": 0},
      "encoding": {"x": {"field": "day", "type": "quantitative", "axis": {"orient": "top", "values": [140,160,180,200,220,240,260,280,300,320]}},
                   "y": {"field": "Alpha", "type": "quantitative", "axis": {"orient": "right", "values": [10,15,20,25,30,35]}}}}
    ]}
],
"columns": 2,
"spacing": {"row": 61, "column": 33},
"bounds": "flush",
"config": {
 "view": {"stroke": "#000000", "strokeWidth": 1},
 "title": {"font": "Liberation Serif", "fontSize": 22, "fontWeight": "normal", "color": "#000000", "baseline": "alphabetic", "offset": 4, "anchor": "middle"},
 "axis": {"grid": false, "title": null, "domainColor": "#000000", "tickColor": "#000000", "tickSize": -4, "labelPadding": 8,
   "labelFont": "Liberation Sans", "labelFontSize": 10, "labelColor": "#262626", "labelFlush": false, "labelOverlap": false, "labelBound": false,
   "labelExpr": "'' + datum.value"},
 "axisTop": {"labels": false, "domain": false, "labelExpr": "''"},
 "axisRight": {"labels": false, "domain": false, "labelExpr": "''"},
 "legend": {"orient": "none"}
}
}
